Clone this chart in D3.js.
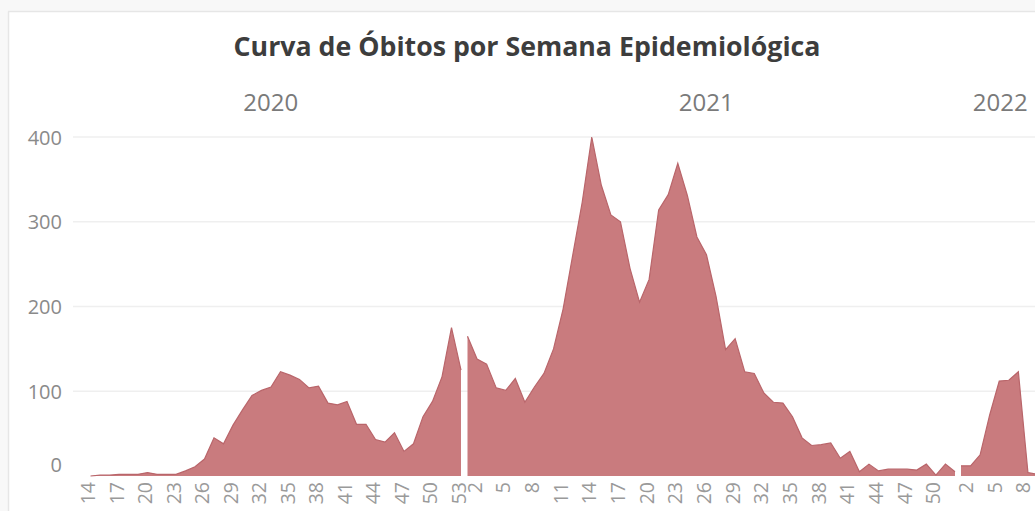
<!DOCTYPE html>
<html>
<head>
<meta charset="utf-8">
<script src="https://cdn.jsdelivr.net/npm/d3@7"></script>
<style>
  html, body { margin: 0; padding: 0; background: #ffffff; }
  svg { display: block; }
  text { font-family: "Open Sans", "Noto Sans", sans-serif; }
</style>
</head>
<body>
<svg id="chart" width="1035" height="511"></svg>
<script>
// ---------------- data ----------------
const title = "Curva de Óbitos por Semana Epidemiológica";
const years = ["2020", "2021", "2022"];

const weeks2020 = d3.range(14, 54);   // 14..53
const weeks2021 = d3.range(1, 53);    // 1..52
const weeks2022 = d3.range(1, 10);    // 1..9 (clipped at right edge)

const deaths2020 = [0, 1, 1, 2, 2, 2, 4, 2, 2, 2,
                    6, 11, 20, 45, 38, 60, 78, 95, 101, 105,
                    123, 119, 114, 104, 106, 86, 84, 88, 61, 61,
                    43, 40, 51, 29, 38, 70, 88, 117, 175, 125];
const deaths2021 = [165, 138, 132, 104, 101, 115, 87, 105, 121, 150,
                    197, 260, 323, 400, 343, 308, 300, 245, 205, 232,
                    314, 332, 369, 331, 282, 261, 212, 149, 162, 123,
                    121, 98, 87, 86, 70, 45, 36, 37, 39, 21,
                    29, 5, 14, 6, 8, 8, 8, 7, 14, 1, 14, 5];
const deaths2022 = [12, 12, 25, 72, 112, 113, 123, 4, 2];

const ticks2020 = [14, 17, 20, 23, 26, 29, 32, 35, 38, 41, 44, 47, 50, 53];
const ticks2021 = [2, 5, 8, 11, 14, 17, 20, 23, 26, 29, 32, 35, 38, 41, 44, 47, 50];
const ticks2022 = [2, 5, 8];
const yTicks = [0, 100, 200, 300, 400];

// ---------------- layout ----------------
const svg = d3.select("#chart");
const W = 1035, H = 511;
const baseY = 476, topY = 137;
const step = 9.56;

const y = d3.scaleLinear().domain([0, 400]).range([baseY, topY]);

const panels = [
  { year: years[0], weeks: weeks2020, values: deaths2020, ticks: ticks2020, x0: 90.5, x1: 461, dx: -3.5 },
  { year: years[1], weeks: weeks2021, values: deaths2021, ticks: ticks2021, x0: 467.5, x1: 955, dx: -3.5 },
  { year: years[2], weeks: weeks2022, values: deaths2022, ticks: ticks2022, x0: 961, x1: 961 + 8 * step, dx: -5.5 }
];

// frame
svg.append("rect").attr("x", 0).attr("y", 0).attr("width", W).attr("height", 11)
  .attr("fill", "#f8f8f8");
svg.append("rect").attr("x", 0).attr("y", 0).attr("width", 8).attr("height", H)
  .attr("fill", "#f8f8f8");
svg.append("line").attr("x1", 8).attr("x2", W).attr("y1", 11.5).attr("y2", 11.5)
  .attr("stroke", "#e6e6e6").attr("stroke-width", 1.5);
svg.append("line").attr("x1", 8.5).attr("x2", 8.5).attr("y1", 11.5).attr("y2", H)
  .attr("stroke", "#e6e6e6").attr("stroke-width", 1.5);

// title
const t = svg.append("text")
  .attr("x", 527).attr("y", 45)
  .attr("text-anchor", "middle").attr("dominant-baseline", "central")
  .attr("font-size", 24).attr("font-weight", 700).attr("fill", "#3d3d3d")
  .text(title);
const tw = t.node().getComputedTextLength();
if (tw > 0) t.attr("font-size", 24 * 587 / tw);

// gridlines
svg.append("g").selectAll("line").data(yTicks.filter(d => d > 0)).join("line")
  .attr("x1", 73).attr("x2", W)
  .attr("y1", d => y(d)).attr("y2", d => y(d))
  .attr("stroke", "#efefef").attr("stroke-width", 1.5);

// y axis
const yAxis = d3.axisLeft(y).tickValues(yTicks).tickSize(0).tickPadding(0);
const gy = svg.append("g").attr("transform", "translate(62,0)").call(yAxis);
gy.select(".domain").remove();
gy.selectAll(".tick text")
  .attr("font-size", 20).attr("fill", "#8a8a8a")
  .attr("font-family", "'Open Sans', sans-serif")
  .attr("dy", "0.35em")
  .attr("transform", d => d === 0 ? "translate(0,-12)" : null);

// panels
panels.forEach(p => {
  const x = d3.scalePoint().domain(p.weeks).range([p.x0, p.x1]);
  const pts = p.weeks.map((w, i) => ({ w, v: p.values[i] }));

  const area = d3.area().x(d => x(d.w)).y0(y(0)).y1(d => y(d.v));
  const line = d3.line().x(d => x(d.w)).y(d => y(d.v));

  svg.append("path").datum(pts).attr("d", area)
    .attr("fill", "#c97b7e");
  svg.append("path").datum(pts).attr("d", line)
    .attr("fill", "none").attr("stroke", "#b9656a").attr("stroke-width", 1.2);

  // year label
  const cx = (p.x0 + p.x1) / 2 + (p.year === "2022" ? 1 : -5);
  svg.append("text")
    .attr("x", cx).attr("y", 101)
    .attr("text-anchor", "middle").attr("dominant-baseline", "central")
    .attr("font-size", 24).attr("fill", "#7a7a7a")
    .text(p.year);

  // x tick labels (rotated)
  const xAxis = d3.axisBottom(x).tickValues(p.ticks).tickSize(0).tickPadding(0);
  const gx = svg.append("g").attr("transform", `translate(0,${baseY})`).call(xAxis);
  gx.select(".domain").remove();
  gx.selectAll(".tick text")
    .attr("font-size", 19.5).attr("fill", "#9a9a9a")
    .attr("font-family", "'Open Sans', sans-serif")
    .attr("text-anchor", "end")
    .attr("dy", null)
    .attr("y", 0)
    .attr("dominant-baseline", "central")
    .attr("transform", `translate(${p.dx},6) rotate(-90)`);
});
</script>
</body>
</html>
